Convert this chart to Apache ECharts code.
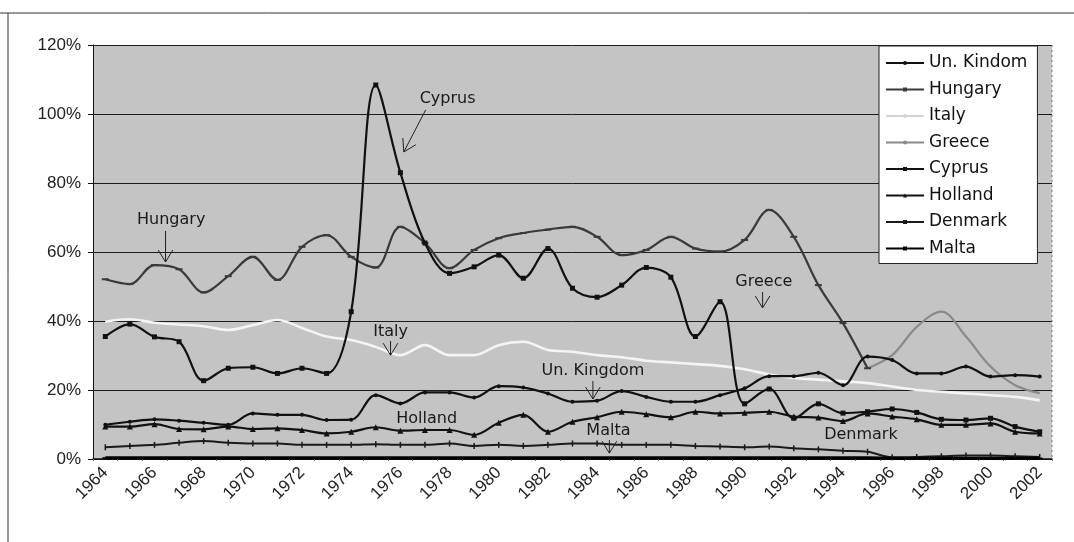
<!DOCTYPE html>
<html>
<head>
<meta charset="utf-8">
<script src="https://cdn.jsdelivr.net/npm/echarts@6/dist/echarts.min.js"></script>
<style>html,body{margin:0;padding:0;background:#fff}#c{width:1074px;height:542px}</style>
</head>
<body>
<div id="c"></div>
<script>
const years = ['1964','1965','1966','1967','1968','1969','1970','1971','1972','1973','1974','1975','1976','1977','1978','1979','1980','1981','1982','1983','1984','1985','1986','1987','1988','1989','1990','1991','1992','1993','1994','1995','1996','1997','1998','1999','2000','2001','2002'];

const unKingdom = [9.9,10.8,11.5,11.1,10.5,9.9,13.2,12.8,12.8,11.3,11.4,18.5, 16.1,19.3,19.3,17.8,21.1,20.7,19,16.6,16.9,19.7,18,16.6, 16.6,18.5,20.5,24,24,25,21.4,29.7, 28.7,24.8,24.8,26.8,23.9,24.3,23.9];
const hungary = [52.1,50.7,56.2,55,48.3,53,58.6,51.9,61.5,64.9,58.6,55.5, 67.3,62.6,55.3,60.6,64,65.5,66.5,67.3,64.4,59.1,60.6,64.4, 61,60.1,63.5,72.2,64.4,50.4,39.4,26.3, null,null,null,null,null,null,null];
const italy = [39.8,40.5,39.5,39,38.5,37.4,38.8,40.3,38,35.5,34.5,32.5, 30.1,33,30.1,30.1,33,34,31.6,31.1,30.1,29.5,28.5,28, 27.5,27,26,24.5,23.5,23,22.5,22, 21,20,19.5,19,18.5,18,17];
const greece = [null,null,null,null,null,null,null,null,null,null,null,null, null,null,null,null,null,null,null,null,null,null,null,null, null,null,null,null,null,null,null,26.3, 30.1,38.3,42.7,35.5,26.8,21.4,19.1];
const cyprus = [35.5,39.1,35.4,34,22.7,26.3,26.6,24.8,26.3,24.8,42.7,108.4, 83,62.6,53.8,55.7,59.1,52.4,61,49.5,46.9,50.4,55.5,52.7, 35.5,45.6,16,20.3,11.8,16,13.3,13.7, 14.5,13.5,11.5,11.3,11.8,9.4,7.9];
const holland = [9.4,9.4,10.1,8.7,8.6,9.4,8.7,8.9,8.4,7.4,7.9,9.2, 8.2,8.4,8.4,7,10.5,12.8,7.9,10.8,12.1,13.7,13,12.1, 13.7,13.2,13.4,13.7,12.3,12,11,13.2, 12.3,11.5,9.9,9.9,10.3,7.9,7.4];
const denmark = [3.4,3.8,4.1,4.7,5.2,4.7,4.5,4.5,4.1,4.1,4.1,4.3, 4.1,4.1,4.5,3.8,4.1,3.8,4.1,4.5,4.5,4.1,4.1,4.1, 3.8,3.6,3.4,3.6,3.1,2.8,2.4,2.1, 0.5,0.6,0.8,1.0,1.0,0.8,0.6];
const malta = [0.3,0.3,0.3,0.3,0.3,0.3,0.3,0.3,0.3,0.3,0.3,0.3, 0.3,0.3,0.3,0.3,0.3,0.3,0.3,0.3,0.3,0.3,0.3,0.3, 0.3,0.3,0.3,0.3,0.3,0.3,0.3,0.3, 0.2,0.2,0.2,0.2,0.2,0.2,0.2];

const yTicks = {min: 0, max: 120, interval: 20};

const chart = echarts.init(document.getElementById('c'), null, {renderer: 'canvas'});

function line(name, data, color, width, symbol, size, z) {
  return {
    name, type: 'line', data, smooth: 0.35, connectNulls: false,
    symbol: symbol || 'none', symbolSize: size || 4, showSymbol: !!symbol,
    lineStyle: {color, width}, itemStyle: {color, borderWidth: 0},
    z: z || 2, emphasis: {disabled: true}
  };
}

const option = {
  animation: false,
  backgroundColor: '#ffffff',
  grid: {left: 93, right: 22, top: 45, bottom: 83, show: true, backgroundColor: '#c4c4c4', borderWidth: 0},
  legend: {
    orient: 'vertical', left: 879, top: 46,
    backgroundColor: '#ffffff', borderColor: '#222', borderWidth: 1,
    padding: [8, 10, 6, 6], itemWidth: 38, itemHeight: 5, itemGap: 8.5, itemTextGap: 7,
    textStyle: {fontFamily: 'DejaVu Sans', fontSize: 17, color: '#111', lineHeight: 18},
    data: [
      {name: 'Un. Kindom'}, {name: 'Hungary'},
      {name: 'Italy', lineStyle: {color: '#d4d4d4'}, itemStyle: {color: '#d4d4d4'}},
      {name: 'Greece'}, {name: 'Cyprus'}, {name: 'Holland'}, {name: 'Denmark'}, {name: 'Malta'}
    ]
  },
  xAxis: {
    type: 'category', data: years, boundaryGap: true,
    axisLine: {lineStyle: {color: '#111', width: 1.5}},
    axisTick: {show: true, interval: 0, length: 2, lineStyle: {color: '#777'}},
    axisLabel: {interval: 1, rotate: 45, fontFamily: 'Liberation Sans', fontSize: 17, color: '#222', margin: 11},
    splitLine: {show: false}
  },
  yAxis: {
    type: 'value', min: yTicks.min, max: yTicks.max, interval: yTicks.interval,
    axisLine: {show: true, lineStyle: {color: '#111', width: 1}},
    axisTick: {show: true, length: 5, lineStyle: {color: '#111'}},
    axisLabel: {formatter: '{value}%', fontFamily: 'Liberation Sans', fontSize: 17, color: '#222', margin: 12},
    splitLine: {show: true, lineStyle: {color: '#1c1c1c', width: 1}}
  },
  series: [
    line('Un. Kindom', unKingdom, '#111111', 2.2, 'circle', 4, 5),
    line('Hungary', hungary, '#3a3a3a', 2.2, 'rect', [7, 2], 4),
    line('Italy', italy, '#f4f4f4', 2.6, null, 0, 3),
    line('Greece', greece, '#8a8a8a', 2.2, null, 0, 3),
    line('Cyprus', cyprus, '#111111', 2.2, 'rect', 5, 6),
    line('Holland', holland, '#111111', 2.2, 'triangle', 6, 5),
    line('Denmark', denmark, '#1a1a1a', 2.0, 'rect', [1.5, 6], 5),
    line('Malta', malta, '#000000', 3.2, 'rect', [6, 1.5], 5)
  ]
};
chart.setOption(option);

// Annotations placed in data space (fractional year, percent)
const labels = [
  {text: 'Hungary', at: [1966.68, 69.3]},
  {text: 'Cyprus', at: [1977.92, 104.3]},
  {text: 'Italy', at: [1975.6, 36.8]},
  {text: 'Greece', at: [1990.78, 51.3]},
  {text: 'Un. Kingdom', at: [1983.83, 25.5]},
  {text: 'Holland', at: [1977.07, 11.6]},
  {text: 'Malta', at: [1984.46, 8.1]},
  {text: 'Denmark', at: [1994.73, 7.0]}
];
const arrows = [
  {from: [1966.45, 66.1], to: [1966.45, 57.1]},
  {from: [1977.03, 101.2], to: [1976.14, 89.0]},
  {from: [1975.6, 34.2], to: [1975.6, 30.1]},
  {from: [1990.73, 48.4], to: [1990.73, 43.8]},
  {from: [1983.83, 22.6], to: [1983.83, 17.4]},
  {from: [1984.5, 5.5], to: [1984.5, 1.7]}
];

function px(yr, val) {
  const xa = chart.convertToPixel({xAxisIndex: 0}, years[0]);
  const xb = chart.convertToPixel({xAxisIndex: 0}, years[years.length - 1]);
  const x = xa + (yr - 1964) * (xb - xa) / (years.length - 1);
  const y = chart.convertToPixel({yAxisIndex: 0}, val);
  return [x, y];
}

const g = [];
labels.forEach(l => {
  const p = px(l.at[0], l.at[1]);
  g.push({type: 'text', z: 100, style: {text: l.text, x: p[0], y: p[1], align: 'center', verticalAlign: 'middle',
    font: '16px "DejaVu Sans"', fill: '#1a1a1a'}});
});
arrows.forEach(a => {
  const p1 = px(a.from[0], a.from[1]);
  const p2 = px(a.to[0], a.to[1]);
  const st = {stroke: '#222', lineWidth: 1};
  g.push({type: 'line', z: 100, shape: {x1: p1[0], y1: p1[1], x2: p2[0], y2: p2[1]}, style: st});
  const ang = Math.atan2(p2[1] - p1[1], p2[0] - p1[0]);
  const L = 14, w = 0.55;
  [ang + Math.PI - w, ang + Math.PI + w].forEach(t => {
    g.push({type: 'line', z: 100, shape: {x1: p2[0], y1: p2[1], x2: p2[0] + L * Math.cos(t), y2: p2[1] + L * Math.sin(t)}, style: st});
  });
});
// outer frame and plot right edge
g.push({type: 'line', z: 50, shape: {x1: 8, y1: 13, x2: 8, y2: 542}, style: {stroke: '#333', lineWidth: 1}});
g.push({type: 'line', z: 50, shape: {x1: 0, y1: 13, x2: 1074, y2: 13}, style: {stroke: '#333', lineWidth: 1}});
const rx = 1074 - 22;
g.push({type: 'line', z: 50, shape: {x1: rx, y1: px(1964, 120)[1], x2: rx, y2: px(1964, 0)[1]}, style: {stroke: '#777', lineWidth: 1, lineDash: [2, 3]}});
chart.setOption({graphic: g});
</script>
</body>
</html>
